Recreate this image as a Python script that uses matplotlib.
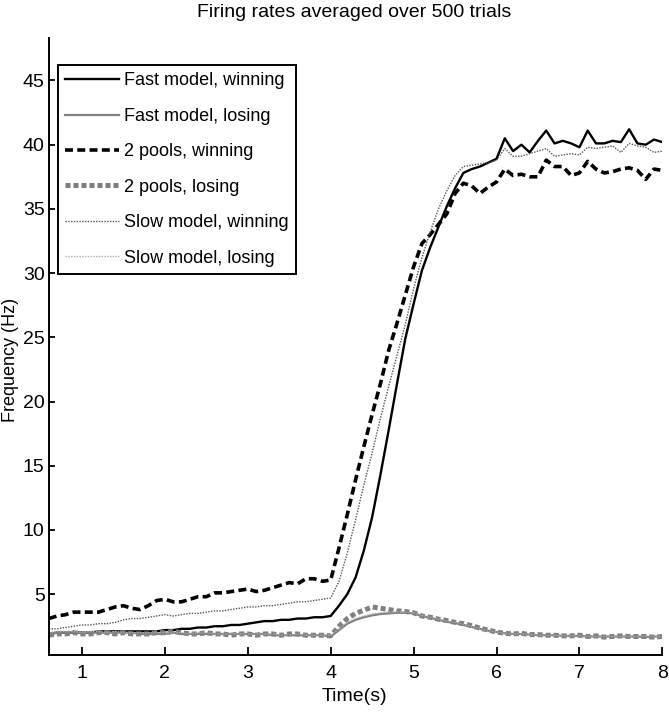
import numpy as np
from matplotlib import pyplot as plt

# time grid (s), 0.1 s steps from 0.6 to 8.0
time_s = np.round(np.arange(0.6, 8.05, 0.1), 1)

fast_winning = [
    1.9, 2.0, 2.0, 2.0, 2.0, 2.0, 2.1, 2.1, 2.1, 2.1,
    2.1, 2.1, 2.1, 2.1, 2.2, 2.2, 2.3, 2.3, 2.4, 2.4,
    2.5, 2.5, 2.6, 2.6, 2.7, 2.8, 2.9, 2.9, 3.0, 3.0,
    3.1, 3.1, 3.2, 3.2, 3.3,
    4.1, 5.0, 6.3, 8.4, 11.0, 14.3, 17.8, 21.4, 24.9, 27.6,
    30.2, 32.0, 33.6, 35.2, 36.6, 37.8, 38.1, 38.3, 38.6, 38.9,
    40.5, 39.5, 40.0, 39.4, 40.3, 41.1, 40.1, 40.3, 40.1, 39.8,
    41.1, 40.1, 40.1, 40.3, 40.2, 41.2, 40.1, 40.0, 40.4, 40.2,
]
fast_losing = [
    1.9, 2.0, 2.0, 2.0, 2.0, 2.0, 2.0, 2.0, 2.0, 2.0,
    2.0, 1.9, 1.9, 1.9, 1.9, 2.0, 1.9, 1.9, 1.9, 1.9,
    1.9, 1.9, 1.9, 1.9, 1.9, 1.9, 1.9, 1.8, 1.8, 1.8,
    1.8, 1.8, 1.8, 1.8, 1.7,
    2.2, 2.7, 3.0, 3.2, 3.35, 3.45, 3.5, 3.55, 3.55, 3.5,
    3.3, 3.15, 3.0, 2.85, 2.75, 2.6, 2.45, 2.3, 2.15, 2.05,
    1.95, 1.9, 1.9, 1.85, 1.8, 1.8, 1.8, 1.75, 1.75, 1.75,
    1.7, 1.7, 1.7, 1.7, 1.7, 1.7, 1.7, 1.65, 1.7, 1.7,
]
pools_winning = [
    3.1, 3.3, 3.4, 3.6, 3.6, 3.6, 3.6, 3.8, 4.0, 4.1,
    3.9, 3.8, 4.1, 4.5, 4.6, 4.4, 4.4, 4.6, 4.8, 4.8,
    5.1, 5.1, 5.2, 5.3, 5.4, 5.2, 5.3, 5.5, 5.7, 5.9,
    5.8, 6.2, 6.2, 6.0, 6.1,
    8.6, 11.2, 13.9, 16.5, 19.0, 21.4, 24.0, 26.1, 28.3, 30.5,
    32.3, 33.0, 33.8, 34.6, 36.2, 37.0, 36.8, 36.2, 36.7, 37.1,
    38.1, 37.6, 37.7, 37.5, 37.5, 38.8, 38.3, 38.3, 37.6, 37.8,
    38.7, 38.1, 37.8, 37.9, 38.1, 38.2, 38.0, 37.3, 38.1, 38.0,
]
pools_losing = [
    1.8, 1.9, 1.9, 2.0, 1.9, 1.9, 2.0, 2.0, 1.9, 2.0,
    1.9, 1.9, 1.9, 2.0, 2.0, 2.1, 2.0, 1.9, 1.9, 2.0,
    1.9, 1.9, 1.8, 1.9, 1.9, 1.8, 1.9, 1.9, 1.8, 1.9,
    1.9, 1.8, 1.8, 1.8, 1.75,
    2.5, 3.1, 3.5, 3.75, 4.0, 3.9, 3.8, 3.7, 3.65, 3.55,
    3.3, 3.2, 3.05, 2.95, 2.8, 2.7, 2.55, 2.35, 2.2, 2.05,
    1.95, 1.9, 1.95, 1.85, 1.85, 1.8, 1.8, 1.75, 1.75, 1.8,
    1.7, 1.75, 1.65, 1.7, 1.75, 1.7, 1.7, 1.7, 1.65, 1.7,
]
slow_winning = [
    2.3, 2.3, 2.4, 2.5, 2.6, 2.6, 2.7, 2.7, 2.8, 3.0,
    3.1, 3.1, 3.2, 3.3, 3.4, 3.3, 3.4, 3.5, 3.5, 3.6,
    3.7, 3.7, 3.8, 3.9, 4.0, 4.0, 4.1, 4.1, 4.2, 4.3,
    4.4, 4.4, 4.5, 4.6, 4.7,
    6.0, 8.2, 10.8, 13.5, 16.0, 18.7, 21.2, 23.6, 26.0, 28.8,
    31.2, 33.2, 35.0, 36.4, 37.6, 38.3, 38.4, 38.5, 38.6, 38.8,
    39.7, 39.1, 39.1, 39.3, 39.5, 39.7, 39.1, 39.2, 39.3, 39.2,
    39.8, 39.7, 39.8, 39.9, 39.4, 40.1, 39.9, 39.8, 39.4, 39.5,
]
slow_losing = [
    2.0, 2.1, 2.1, 2.1, 2.0, 2.1, 2.1, 2.0, 2.1, 2.0,
    2.0, 2.0, 2.0, 2.0, 2.0, 2.0, 2.0, 1.9, 2.0, 2.0,
    1.9, 1.9, 1.9, 1.9, 1.9, 1.9, 1.9, 1.9, 1.8, 1.8,
    1.9, 1.8, 1.8, 1.8, 1.8,
    2.3, 2.8, 3.1, 3.3, 3.45, 3.55, 3.6, 3.6, 3.6, 3.55,
    3.35, 3.2, 3.05, 2.9, 2.8, 2.65, 2.5, 2.3, 2.15, 2.05,
    1.95, 1.9, 1.9, 1.85, 1.8, 1.8, 1.8, 1.75, 1.75, 1.75,
    1.7, 1.7, 1.7, 1.7, 1.7, 1.7, 1.7, 1.7, 1.7, 1.7,
]

plt.rcParams['font.family'] = ['Liberation Sans', 'DejaVu Sans']

fig = plt.figure(figsize=(6.69, 7.19), dpi=100)
ax = fig.add_axes([0.073, 0.089, 0.917, 0.858])

ax.plot(time_s, fast_winning, color='black', lw=1.7, label='Fast model, winning')
ax.plot(time_s, fast_losing, color='#808080', lw=1.6, label='Fast model, losing')
ax.plot(time_s, pools_winning, color='black', lw=2.6, dashes=(2.2, 1.2),
        label='2 pools, winning')
ax.plot(time_s, pools_losing, color='#808080', lw=3.6, dashes=(1.0, 0.6),
        label='2 pools, losing')
ax.plot(time_s, slow_winning, color='#555555', lw=1.0, dashes=(1.0, 1.0),
        label='Slow model, winning')
ax.plot(time_s, slow_losing, color='#aaaaaa', lw=1.0, dashes=(1.0, 1.0),
        label='Slow model, losing')

ax.set_xlim(0.6, 8.0)
ax.set_ylim(0.26, 48.3)
ax.set_xticks(range(1, 9))
ax.set_yticks(range(5, 50, 5))
ax.spines['top'].set_visible(False)
ax.spines['right'].set_visible(False)
for side in ('left', 'bottom'):
    ax.spines[side].set_linewidth(1.4)
ax.tick_params(axis='x', direction='in', length=6, width=1.3, labelsize=14, pad=7)
ax.tick_params(axis='y', direction='in', length=4, width=1.3, labelsize=14, pad=3)

leg = ax.legend(loc='upper left', bbox_to_anchor=(0.0147, 0.956), fontsize=13,
                frameon=True, fancybox=False, edgecolor='black', framealpha=1,
                handlelength=3.0, handletextpad=0.25, labelspacing=1.02,
                borderpad=0.4, borderaxespad=0)
leg.get_frame().set_linewidth(1.4)

fig.text(0.53, 0.982, 'Firing rates averaged over 500 trials', ha='center',
         va='center', fontsize=14)
fig.text(0.53, 0.031, 'Time(s)', ha='center', va='center', fontsize=14)
fig.text(0.016, 0.5, 'Frequency (Hz)', rotation=90, ha='center', va='center',
         fontsize=13)

fig.savefig('out.png', dpi=100)
